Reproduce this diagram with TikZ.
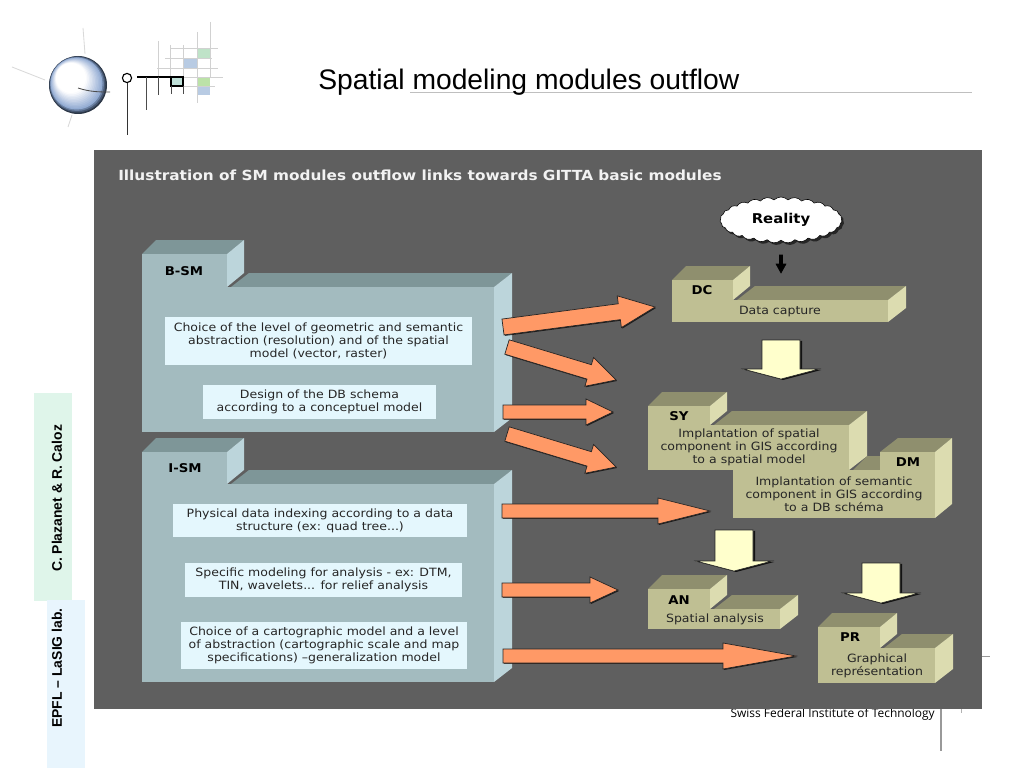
\documentclass[tikz,border=0pt]{standalone}
\usepackage{fontspec}
\setmainfont[FakeStretch=1.1]{DejaVu Sans}
\newfontfamily\arialfont{Liberation Sans}
\newfontfamily\swissfont{Open Sans}
\usepackage{tikz}
\usetikzlibrary{calc, shadows, shapes.symbols}

\definecolor{panelgray}{HTML}{5F5F5F}
\definecolor{bluefront}{HTML}{A3BBBF}
\definecolor{bluetop}{HTML}{7E9698}
\definecolor{blueside}{HTML}{BCD5DB}
\definecolor{olivefront}{HTML}{BFBF93}
\definecolor{olivetop}{HTML}{8F8F6E}
\definecolor{oliveside}{HTML}{DCDCB0}
\definecolor{notepale}{HTML}{E4F7FD}
\definecolor{arroworange}{HTML}{FF9966}
\definecolor{arrowyellow}{HTML}{FFFFCC}
\definecolor{sidegreen}{HTML}{DFF5EA}
\definecolor{sideblue}{HTML}{E8F5FD}
\definecolor{logogreen}{HTML}{BFE3C8}
\definecolor{logolime}{HTML}{BCE2A8}
\definecolor{logoblue}{HTML}{B8CBE3}
\definecolor{logoteal}{HTML}{BFE0D8}
\definecolor{globeblue}{HTML}{7F9CCB}

\def\pxu{0.025cm}

% Stepped box: colour, left, tab right, tab top, body top, right, bottom
\newcommand{\pkgbox}[7]{%
  \fill[#1top] (#3+4,#5) -- (#3+22,#5-14) -- (#6+18,#5-14) -- (#6,#5) -- cycle;
  \fill[#1side] (#6,#5) -- (#6+18,#5-14) -- (#6+18,#7-14) -- (#6,#7) -- cycle;
  \fill[#1top] (#2,#4) -- (#2+14,#4-14) -- (#3+17,#4-14) -- (#3,#4) -- cycle;
  \fill[#1side] (#3,#4) -- (#3+17,#4-14) -- (#3+17,#5-14) -- (#3,#5) -- cycle;
  \fill[#1front] (#2,#4) rectangle (#3,#5);
  \fill[#1front] (#2,#5) rectangle (#6,#7);
}
% Block arrow: style, from, to, half shaft, head length, half head
\newcommand{\blockarrow}[6]{%
  \draw[#1] ($(#2)!#4*\pxu!-90:(#3)$)
    -- ($(#3)!#5*\pxu!(#2)!#4*\pxu!-90:(#3)$)
    -- ($(#3)!#5*\pxu!(#2)!#6*\pxu!-90:(#3)$)
    -- (#3)
    -- ($(#3)!#5*\pxu!(#2)!#6*\pxu!90:(#3)$)
    -- ($(#3)!#5*\pxu!(#2)!#4*\pxu!90:(#3)$)
    -- ($(#2)!#4*\pxu!90:(#3)$) -- cycle;
}

\begin{document}
\begin{tikzpicture}[
    x=0.025cm, y=-0.025cm,
    notebox/.style={fill=notepale, inner sep=0pt, align=center, text=black!85,
        font=\fontsize{8.1}{9.25}\selectfont},
    olivetext/.style={inner sep=0pt, align=center, text=black!85,
        font=\fontsize{8.1}{9.25}\selectfont},
    tabname/.style={inner sep=0pt, text=black, font=\fontsize{8.6}{9}\selectfont\bfseries},
    orangearrow/.style={fill=arroworange, draw=black!85, line width=0.5pt,
        drop shadow={shadow xshift=0.7pt, shadow yshift=-0.7pt, opacity=0.7, fill=black}},
    yellowarrow/.style={fill=arrowyellow, draw=black!85, line width=0.4pt,
        drop shadow={shadow xshift=1.5pt, shadow yshift=-0.7pt, opacity=0.8, fill=black}},
    gridline/.style={black!18, line width=0.6pt},
    logoline/.style={black, line width=0.8pt},
    sidetext/.style={inner sep=0pt, rotate=90, text=black, font=\arialfont\bfseries\fontsize{9.9}{11}\selectfont}
]
\useasboundingbox (0,0) rectangle (1024,768);

% Logo: globe and rays
\draw[black!15, line width=0.6pt] (12,67) -- (45,80);
\draw[black!15, line width=0.6pt] (83,28) -- (85,54);
\draw[black!15, line width=0.6pt] (72,115) -- (68,127);
\foreach \i in {0,...,16} {
    \pgfmathsetmacro{\keep}{min(100,35+22*\i)}
    \pgfmathsetmacro{\pale}{min(100,max(0,(\i-1)*8))}
    \fill[white!\pale!globeblue!\keep!black] ({78-0.5*\i},{85-0.5*\i}) circle ({29-\i});
}
\draw[black!70, line width=0.6pt] (78,88) .. controls (90,92) and (100,92) .. (110,92);

% Logo: grid with coloured squares
\fill[logogreen] (197,48) rectangle (210,58);
\fill[logoblue] (183,58) rectangle (197,68);
\fill[logolime] (197,77) rectangle (210,86);
\fill[logoblue] (197,86) rectangle (210,95);
\foreach \xa/\ya/\yb in {158/41/77, 170/45/77, 183/45/77, 197/32/103, 210/22/77}
    \draw[gridline] (\xa,\ya) -- (\xa,\yb);
\foreach \yh/\xa/\xb in {48/170/218, 58/165/212, 68/157/218, 77/183/223, 86/183/215}
    \draw[gridline] (\xa,\yh) -- (\xb,\yh);

% Logo: letters
\draw[logoline] (127,78) circle (4.6);
\draw[black!80, line width=0.7pt] (127,83) -- (127,135);
\draw[logoline] (137,77) -- (183,77);
\draw[black!70, line width=0.7pt] (146,77) -- (146,110);
\draw[black!70, line width=0.7pt] (158,77) -- (158,95);
\draw[logoline, fill=logoteal] (171,77) rectangle (183,86);
\draw[black!70, line width=0.7pt] (171,86) -- (171,94);
\draw[black!70, line width=0.7pt] (183,86) -- (183,94);

% Title and slide furniture
\draw[black!25, line width=0.5pt] (410,92) -- (972,92);
\node[anchor=base west, inner sep=0pt, font=\arialfont\fontsize{20.1}{22}\selectfont] (title) at (318,90)
    {Spatial modeling modules outflow};
\fill[sidegreen] (34,393) rectangle (72,601);
\fill[sideblue] (47,600) rectangle (85,768);
\node[sidetext] (authors) at (57,498.5) {C. Plazanet \& R. Caloz};
\node[sidetext] (lab) at (57,668) {EPFL – LaSIG lab.};
\node[anchor=base east, inner sep=0pt, text=black, font=\swissfont\fontsize{8.5}{10}\selectfont] (swiss) at (935,717)
    {Swiss Federal Institute of Technology};
\draw[black!40, line width=0.8pt] (941,705) -- (941,751);
\draw[black!30, line width=0.5pt] (961,705) -- (961,713);
\draw[black!40, line width=0.5pt] (975,656) -- (990,656);

% Dark panel
\fill[panelgray] (94,150) rectangle (982,709);
\node[anchor=base west, inner sep=0pt, text=black!5, font=\fontsize{9.9}{11}\selectfont\bfseries] (heading) at (118,180)
    {Illustration of SM modules outflow links towards GITTA basic modules};

% Left packages
\pkgbox{blue}{142}{227}{254}{287}{494}{432}
\node[tabname] (bsm) at (184,271) {B-SM};
\pkgbox{blue}{142}{227}{452}{484}{494}{682}
\node[tabname] (ism) at (185,468) {I-SM};

\node[notebox, minimum width=307*\pxu, minimum height=48*\pxu] (choice) at (318.5,341)
    {Choice of the level of geometric and semantic\\abstraction (resolution) and of the spatial\\model (vector, raster)};
\node[notebox, minimum width=233*\pxu, minimum height=34*\pxu] (design) at (319.5,402)
    {Design of the DB schema\\according to a conceptuel model};
\node[notebox, minimum width=294*\pxu, minimum height=33*\pxu] (indexing) at (320,520.5)
    {Physical data indexing according to a data\\structure (ex: quad tree...)};
\node[notebox, minimum width=277*\pxu, minimum height=34*\pxu] (specific) at (323.5,580)
    {Specific modeling for analysis - ex: DTM,\\TIN, wavelets... for relief analysis};
\node[notebox, minimum width=286*\pxu, minimum height=47*\pxu] (carto) at (324,645.5)
    {Choice of a cartographic model and a level\\of abstraction (cartographic scale and map\\specifications) –generalization model};

% Right packages
\pkgbox{olive}{672}{733}{280}{300}{888}{322}
\node[tabname] (dc) at (702,290) {DC};
\node[olivetext] (capture) at (780,312) {Data capture};

% DM steps out to the right, SY sits over its left end
\fill[olivetop] (853,470) -- (867,456) -- (880,456) -- (880,470) -- cycle;
\fill[olivetop] (880,452) -- (898,438) -- (952,438) -- (935,452) -- cycle;
\fill[oliveside] (935,452) -- (952,438) -- (952,504) -- (935,518) -- cycle;
\fill[olivefront] (880,452) rectangle (935,470);
\fill[olivefront] (733,470) rectangle (935,518);
\pkgbox{olive}{648}{710}{406}{425}{849}{470}
\node[tabname] (sy) at (679,416) {SY};
\node[olivetext] (spatial) at (749,447)
    {Implantation of spatial\\component in GIS according\\to a spatial model};
\node[tabname] (dm) at (908,462) {DM};
\node[olivetext] (semantic) at (834,494)
    {Implantation of semantic\\component in GIS according\\to a DB schéma};

\pkgbox{olive}{648}{710}{589}{609}{780}{629}
\node[tabname] (an) at (679,600) {AN};
\node[olivetext] (analysis) at (715,619) {Spatial analysis};
\pkgbox{olive}{818}{880}{627}{648}{935}{683}
\node[tabname] (pr) at (850,637) {PR};
\node[olivetext] (graphical) at (877,666) {Graphical\\représentation};

% Reality cloud
\node[cloud, cloud puffs=27, cloud puff arc=90, cloud ignores aspect, draw=black, fill=white, line width=0.4pt, inner sep=0pt,
    minimum width=122*\pxu, minimum height=46*\pxu, text=black,
    font=\fontsize{9.6}{11}\selectfont\bfseries,
    drop shadow={shadow xshift=1.5pt, shadow yshift=-1.5pt, opacity=0.6, fill=black}] (reality) at (781,220) {Reality};
\coordinate (reality end) at (781,255);
\coordinate (dc start) at (781,273);
\blockarrow{fill=black}{reality end}{dc start}{1.5}{9}{5}

% Orange arrows
\coordinate (a1s) at (503,327);   \coordinate (a1e) at (655,307);
\coordinate (a2s) at (507,347);   \coordinate (a2e) at (616,380);
\coordinate (a3s) at (503,412);   \coordinate (a3e) at (613,412);
\coordinate (a4s) at (507,434);   \coordinate (a4e) at (616,467);
\coordinate (a5s) at (502,511);   \coordinate (a5e) at (710,511);
\coordinate (a6s) at (502,590);   \coordinate (a6e) at (618,590);
\coordinate (a7s) at (503,656);   \coordinate (a7e) at (796,656);
\blockarrow{orangearrow}{a1s}{a1e}{8}{36}{16}
\blockarrow{orangearrow}{a2s}{a2e}{7.5}{28}{15}
\blockarrow{orangearrow}{a3s}{a3e}{7}{27}{13}
\blockarrow{orangearrow}{a4s}{a4e}{7.5}{28}{15}
\blockarrow{orangearrow}{a5s}{a5e}{7}{52}{13}
\blockarrow{orangearrow}{a6s}{a6e}{7}{28}{13}
\blockarrow{orangearrow}{a7s}{a7e}{7}{73}{13}

% Yellow arrows
\coordinate (y1s) at (781,340);   \coordinate (y1e) at (781,379);
\coordinate (y2s) at (734,530);   \coordinate (y2e) at (734,571);
\coordinate (y3s) at (881,563);   \coordinate (y3e) at (881,603);
\blockarrow{yellowarrow}{y1s}{y1e}{19}{10}{38}
\blockarrow{yellowarrow}{y2s}{y2e}{19}{10}{38}
\blockarrow{yellowarrow}{y3s}{y3e}{19}{10}{38}
\end{tikzpicture}
\end{document}
